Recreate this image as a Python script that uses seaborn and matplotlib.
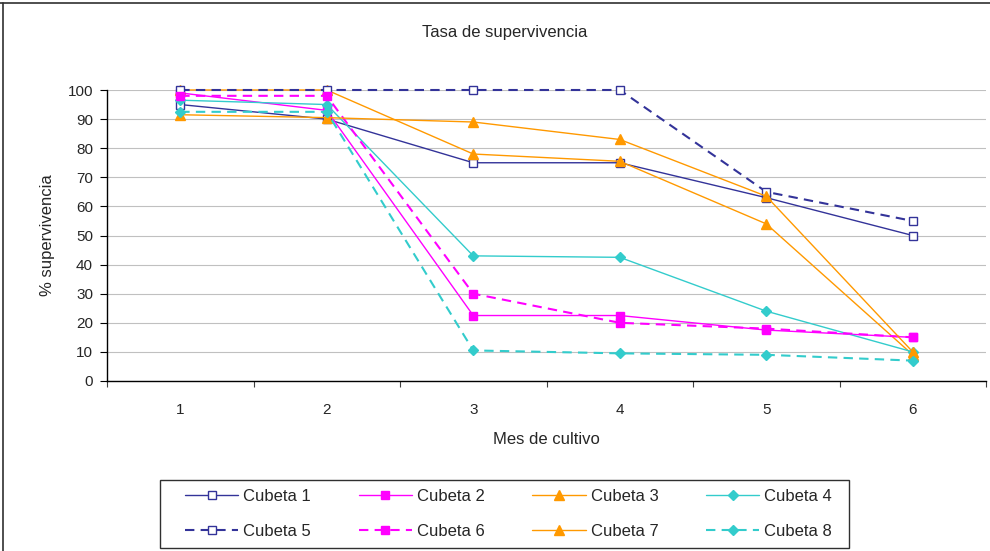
import matplotlib
matplotlib.use("Agg")
import matplotlib.pyplot as plt
import seaborn as sns
from matplotlib.lines import Line2D
from matplotlib.patches import Rectangle

# ---- data ----
meses = [1, 2, 3, 4, 5, 6]
cubeta1 = [95, 90, 75, 75, 63, 50]
cubeta2 = [99, 93, 22.5, 22.5, 17.5, 15]
cubeta3 = [100, 100, 78, 75.5, 54, 9]
cubeta4 = [96.5, 95, 43, 42.5, 24, 10]
cubeta5 = [100, 100, 100, 100, 65, 55]
cubeta6 = [98, 98, 30, 20, 18, 15]
cubeta7 = [91.5, 90.5, 89, 83, 63.5, 10]
cubeta8 = [92.5, 92.5, 10.5, 9.5, 9, 7]
etiquetas = ["Cubeta 1", "Cubeta 2", "Cubeta 3", "Cubeta 4",
             "Cubeta 5", "Cubeta 6", "Cubeta 7", "Cubeta 8"]
titulo = "Tasa de supervivencia"
xlabel = "Mes de cultivo"
ylabel = "% supervivencia"

series = [cubeta1, cubeta2, cubeta3, cubeta4, cubeta5, cubeta6, cubeta7, cubeta8]

NAVY = "#333399"
MAG = "#FF00FF"
ORA = "#FF9900"
CYA = "#33CCCC"
DASH = (0, (4.5, 3))

styles = [
    dict(color=NAVY, marker="s", ms=6, mfc="white", ls="-", lw=1.0),
    dict(color=MAG, marker="s", ms=6, mfc=MAG, ls="-", lw=1.0),
    dict(color=ORA, marker="^", ms=7.5, mfc=ORA, ls="-", lw=1.0),
    dict(color=CYA, marker="D", ms=5.5, mfc=CYA, ls="-", lw=1.0),
    dict(color=NAVY, marker="s", ms=6, mfc="white", ls=DASH, lw=1.5),
    dict(color=MAG, marker="s", ms=6, mfc=MAG, ls=DASH, lw=1.5),
    dict(color=ORA, marker="^", ms=7.5, mfc=ORA, ls="-", lw=1.0),
    dict(color=CYA, marker="D", ms=5.5, mfc=CYA, ls=DASH, lw=1.5),
]

sns.set_theme(style="white")
plt.rcParams["font.family"] = ["Liberation Sans", "DejaVu Sans"]

fig = plt.figure(figsize=(9.9, 5.51), dpi=100)
ax = fig.add_axes([107 / 990, 1 - 381 / 551, (986 - 107) / 990, (381 - 90) / 551])

handles = []
for vals, lab, st in zip(series, etiquetas, styles):
    sns.lineplot(x=meses, y=vals, ax=ax, color=st["color"], marker=st["marker"],
                 markersize=st["ms"], markerfacecolor=st["mfc"],
                 markeredgecolor=st["color"], markeredgewidth=1.0,
                 linestyle=st["ls"], linewidth=st["lw"], label=lab,
                 legend=False, clip_on=False, zorder=3)
    handles.append(Line2D([], [], color=st["color"], marker=st["marker"],
                          markersize=st["ms"] - 0.5, markerfacecolor=st["mfc"],
                          markeredgecolor=st["color"], markeredgewidth=1.0,
                          linestyle=st["ls"], linewidth=st["lw"]))

ax.set_xlim(0.5, 6.5)
ax.set_ylim(0, 100)
ax.set_yticks(range(0, 101, 10))
ax.set_xticks(meses)
ax.set_xticks([m - 0.5 for m in meses] + [6.5], minor=True)
ax.grid(axis="y", color="#C0C0C0", linewidth=0.8)
ax.grid(axis="x", visible=False)
ax.set_axisbelow(True)
for s in ["top", "right"]:
    ax.spines[s].set_visible(False)
for s in ["left", "bottom"]:
    ax.spines[s].set_color("black")
    ax.spines[s].set_linewidth(1.0)

ax.tick_params(axis="y", which="major", direction="out", length=5, width=0.8,
               color="black", labelsize=11, pad=5, left=True)
ax.tick_params(axis="x", which="major", length=0, labelsize=11, pad=15.5)
ax.tick_params(axis="x", which="minor", direction="out", length=4.5, width=0.8,
               color="#404040", bottom=True)

ax.set_xlabel(xlabel, fontsize=12, labelpad=11.5)
ax.set_ylabel(ylabel, fontsize=12, labelpad=9)

fig.text(505 / 990, 1 - 32 / 551, titulo, ha="center", va="center", fontsize=12)

# legend (entries filled column-wise: 1,5,2,6,3,7,4,8)
order = [0, 4, 1, 5, 2, 6, 3, 7]
leg = fig.legend([handles[i] for i in order], [etiquetas[i] for i in order],
                 ncol=4, loc="upper left",
                 bbox_to_anchor=(185 / 990, 1 - 489 / 551),
                 frameon=False, fontsize=12, handlelength=3.2,
                 handletextpad=0.3, columnspacing=2.85, labelspacing=1.2,
                 borderpad=0, borderaxespad=0)
fig.add_artist(Rectangle((160 / 990, 1 - 548 / 551), (849 - 160) / 990,
                         (548 - 480) / 551, transform=fig.transFigure,
                         fill=False, edgecolor="#303030", linewidth=1.0))

# chart-area border (top & left)
fig.add_artist(Line2D([0, 1], [1 - 3 / 551, 1 - 3 / 551], transform=fig.transFigure,
                      color="#303030", linewidth=1.2))
fig.add_artist(Line2D([2.5 / 990, 2.5 / 990], [0, 1 - 3 / 551], transform=fig.transFigure,
                      color="#303030", linewidth=1.2))

fig.savefig("out.png", dpi=100)
